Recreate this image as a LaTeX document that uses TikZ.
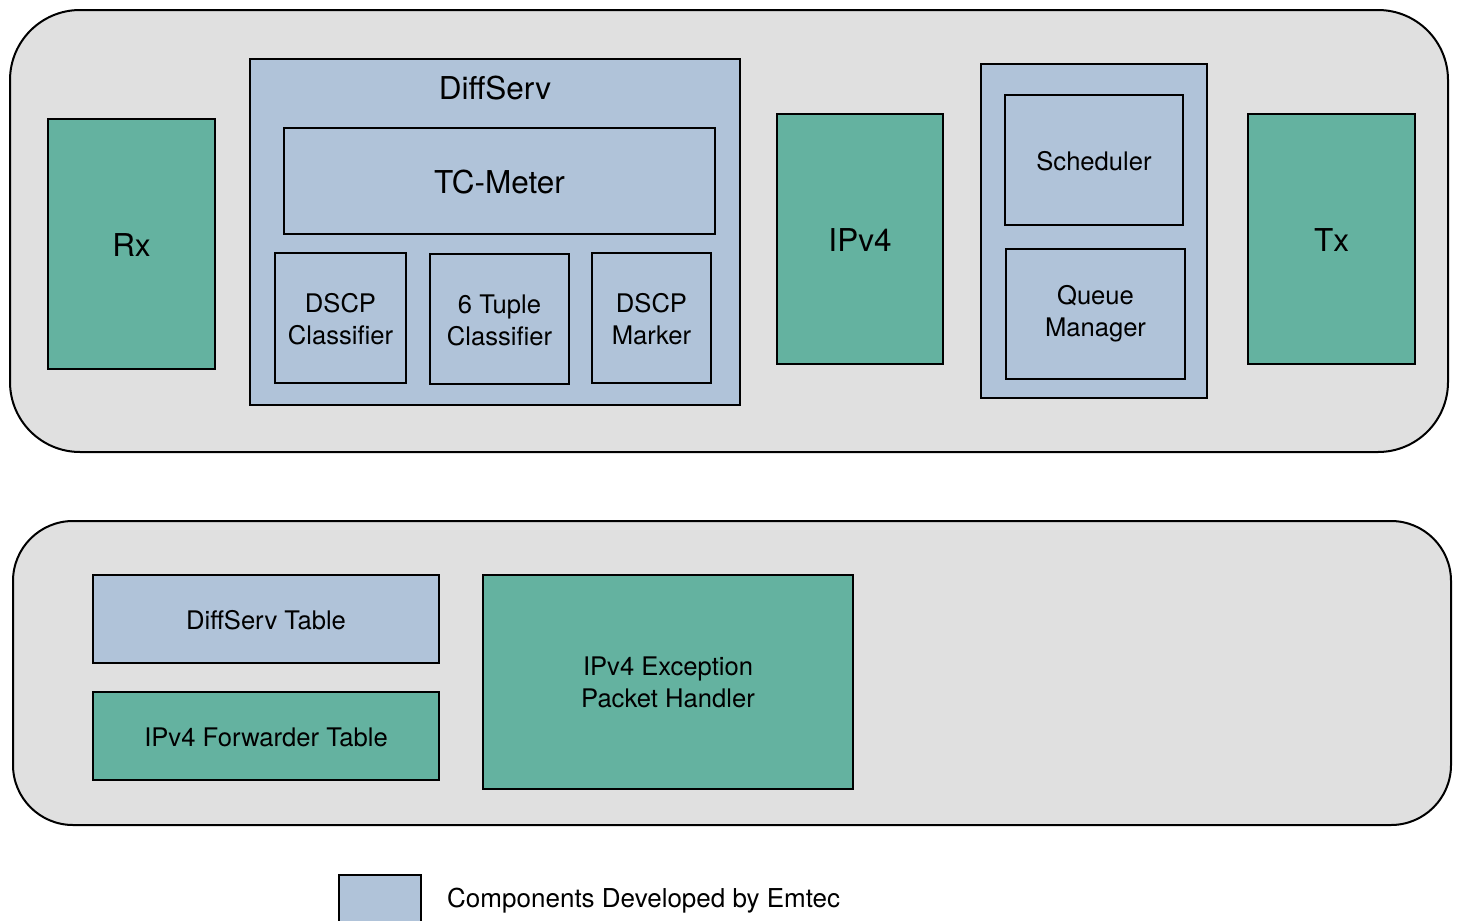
\documentclass[tikz,border=0pt]{standalone}
\usepackage{fontspec}
\setmainfont{TeX Gyre Heros}
\definecolor{gbg}{HTML}{E0E0E0}
\definecolor{bl}{HTML}{B0C3D9}
\definecolor{gr}{HTML}{64B2A0}
\tikzset{
  outer/.style={draw=black, fill=gbg, line width=2pt},
  bbox/.style={draw=black, fill=bl, line width=2.5pt, inner sep=0pt, align=center},
  gbox/.style={draw=black, fill=gr, line width=2.5pt, inner sep=0pt, align=center},
  lbl/.style={inner sep=0pt, align=center},
  big/.style={font=\fontsize{31.5}{38}\selectfont},
  small/.style={font=\fontsize{25.6}{32}\selectfont}
}
\newcommand{\boxnode}[6]{% style, name, x1,y1,x2,y2
  \path[#1] (#3,#4) rectangle (#5,#6);
  \coordinate (#2) at ({(#3+#5)/2},{(#4+#6)/2});
}
\begin{document}
\begin{tikzpicture}[x=1pt,y=-1pt]
\useasboundingbox (0,0) rectangle (1457,921);
\fill[white] (0,0) rectangle (1457,921);
% outer containers
\path[outer, rounded corners=70pt] (10,10) rectangle (1448,452);
\path[outer, rounded corners=60pt] (13,521) rectangle (1451,825);
% top row
\boxnode{gbox}{rx}{48}{119}{215}{369}
\node[lbl, big] at ([yshift=-1pt]rx) {Rx};
\boxnode{bbox}{ds}{250}{59}{740}{405}
\node[lbl, big] (dslbl) at (495,88) {DiffServ};
\boxnode{bbox}{tc}{284}{128}{715}{234}
\node[lbl, big] at ([yshift=-1pt]tc) {TC-Meter};
\boxnode{bbox}{dc}{275}{253}{406}{383}
\node[lbl, small] at ([yshift=-1pt]dc) {DSCP\\Classifier};
\boxnode{bbox}{tu}{430}{254}{569}{384}
\node[lbl, small] at ([yshift=-1pt]tu) {6 Tuple\\Classifier};
\boxnode{bbox}{dm}{592}{253}{711}{383}
\node[lbl, small] at ([yshift=-1pt]dm) {DSCP\\Marker};
\boxnode{gbox}{ip}{777}{114}{943}{364}
\node[lbl, big] at ([yshift=-1pt]ip) {IPv4};
\boxnode{bbox}{qg}{981}{64}{1207}{398}
\boxnode{bbox}{sc}{1005}{95}{1183}{225}
\node[lbl, small] at ([yshift=-1pt]sc) {Scheduler};
\boxnode{bbox}{qm}{1006}{249}{1185}{379}
\node[lbl, small] at ([yshift=0pt]qm) {Queue\\Manager};
\boxnode{gbox}{tx}{1248}{114}{1415}{364}
\node[lbl, big] at ([yshift=-1pt]tx) {Tx};
% bottom row
\boxnode{bbox}{dt}{93}{575}{439}{663}
\node[lbl, small] at ([yshift=-1pt]dt) {DiffServ Table};
\boxnode{gbox}{ft}{93}{692}{439}{780}
\node[lbl, small] at ([yshift=-1pt]ft) {IPv4 Forwarder Table};
\boxnode{gbox}{ex}{483}{575}{853}{789}
\node[lbl, small] at (668,682) {IPv4 Exception\\Packet Handler};
% legend
\path[draw=black, fill=bl, line width=2.5pt] (339,875) rectangle (421,923);
\coordinate (lg) at (380,899);
\node[lbl, anchor=west, font=\fontsize{26}{32}\selectfont] (lgt) at (447,901) {Components Developed by Emtec};
\end{tikzpicture}
\end{document}
